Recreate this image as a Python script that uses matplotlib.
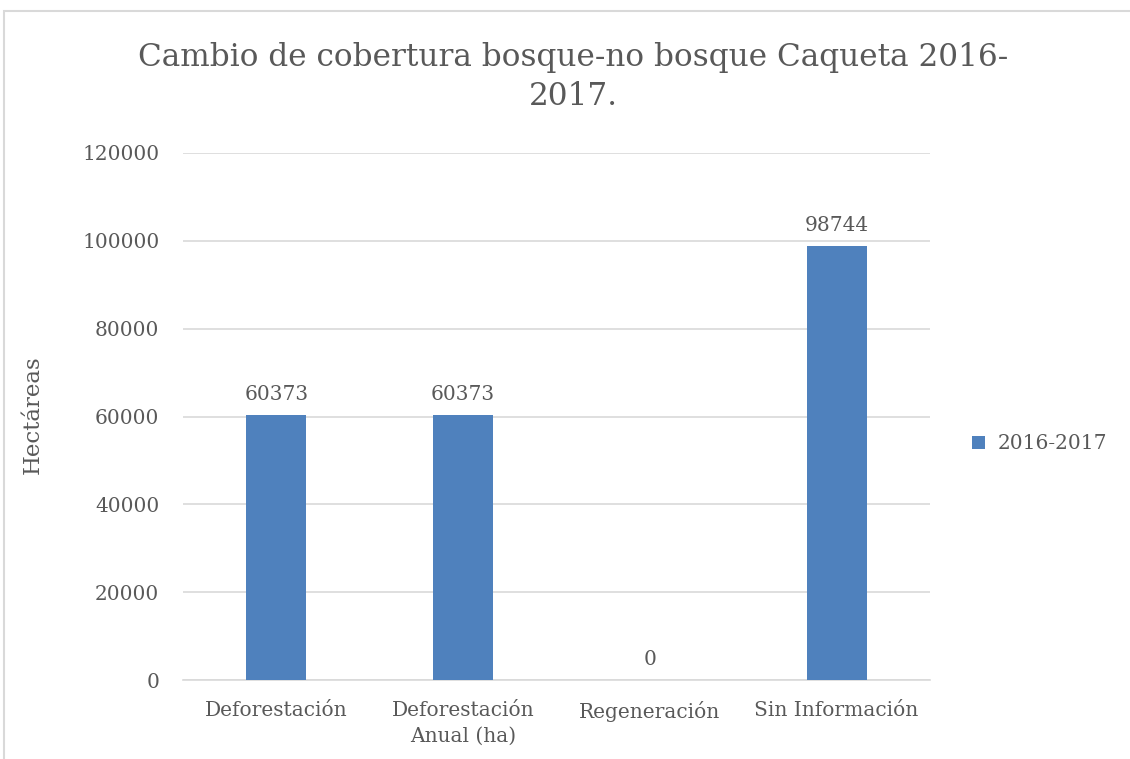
import matplotlib
matplotlib.use("Agg")
import matplotlib.pyplot as plt
from matplotlib.patches import Rectangle

categories = ["Deforestación", "Deforestación\nAnual (ha)", "Regeneración", "Sin Información"]
values = [60373, 60373, 0, 98744]
series_name = "2016-2017"
yticks = [0, 20000, 40000, 60000, 80000, 100000, 120000]

TEXT = "#595959"
BAR = "#4F81BD"
GRID = "#D9D9D9"
FS = 14.5

plt.rcParams["font.family"] = ["DejaVu Serif"]

fig = plt.figure(figsize=(11.3, 7.59), dpi=100)
W, H = 1130, 759
# plot area in pixels: x 183..930, y 153..680
ax = fig.add_axes([183 / W, 1 - 680 / H, (930 - 183) / W, (680 - 153) / H])

x = range(len(categories))
ax.bar(x, values, width=0.32, color=BAR, label=series_name, zorder=3)

for xi, v in zip(x, values):
    ax.annotate(f"{v}", (xi, v), xytext=(0, 8), textcoords="offset points",
                ha="center", va="bottom", fontsize=FS, color=TEXT)

ax.set_xlim(-0.5, len(categories) - 0.5)
ax.set_ylim(0, 120000)
ax.set_yticks(yticks)
ax.set_yticklabels([str(t) for t in yticks], fontsize=FS, color=TEXT)
ax.set_xticks(list(x))
ax.set_xticklabels(categories, fontsize=FS, color=TEXT, linespacing=1.45)
ax.tick_params(axis="both", length=0)
ax.tick_params(axis="y", pad=17)
ax.tick_params(axis="x", pad=15)
ax.grid(axis="y", color=GRID, linewidth=1.2, zorder=0)
for s in ["top", "right", "left"]:
    ax.spines[s].set_visible(False)
ax.spines["bottom"].set_color(GRID)
ax.spines["bottom"].set_linewidth(1.2)

ax.set_ylabel("Hectáreas", fontsize=16.5, color=TEXT)
ax.yaxis.set_label_coords(44 / W, 1 - 415 / H, transform=fig.transFigure)

fig.text(573 / W, 1 - 77 / H, "Cambio de cobertura bosque-no bosque Caqueta 2016-\n2017.",
         ha="center", va="center", fontsize=22.4, color=TEXT, linespacing=1.3)

leg = ax.legend(loc="center left", bbox_to_anchor=(954 / W, 1 - 444 / H),
                bbox_transform=fig.transFigure, frameon=False, fontsize=FS,
                handlelength=0.65, handleheight=0.65, handletextpad=0.6)
for t in leg.get_texts():
    t.set_color(TEXT)

# chart border
fig.patches.append(Rectangle((4 / W, -0.05), 1.1, 1 - 11 / H + 0.05, transform=fig.transFigure,
                             fill=False, edgecolor="#D9D9D9", linewidth=1.5))

fig.savefig("out.png", dpi=100, facecolor="white")
